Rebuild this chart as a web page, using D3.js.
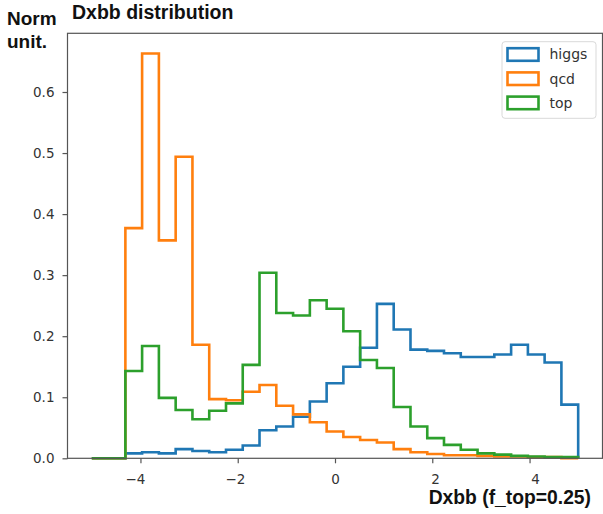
<!DOCTYPE html>
<html>
<head>
<meta charset="utf-8">
<script src="https://cdn.jsdelivr.net/npm/d3@7"></script>
<style>
  html, body { margin: 0; padding: 0; background: #fff; }
  svg { display: block; }
</style>
</head>
<body>
<svg id="chart" width="603" height="514"></svg>
<script>
// ---- data ----
const binEdges = [-5, -4.655, -4.310, -3.966, -3.621, -3.276, -2.931, -2.586, -2.241, -1.897,
  -1.552, -1.207, -0.862, -0.517, -0.172, 0.172, 0.517, 0.862, 1.207, 1.552,
  1.897, 2.241, 2.586, 2.931, 3.276, 3.621, 3.966, 4.310, 4.655, 5];

const seriesNames = ["higgs", "qcd", "top"];

const higgs = [0, 0, 0.008, 0.010, 0.008, 0.015, 0.012, 0.010, 0.014, 0.021,
  0.046, 0.052, 0.068, 0.093, 0.123, 0.150, 0.181, 0.253, 0.211, 0.178,
  0.176, 0.172, 0.166, 0.166, 0.170, 0.186, 0.170, 0.157, 0.088];

const qcd = [0, 0, 0.377, 0.663, 0.357, 0.494, 0.186, 0.097, 0.095, 0.109,
  0.120, 0.086, 0.072, 0.059, 0.044, 0.035, 0.030, 0.026, 0.015, 0.010,
  0.007, 0.005, 0.005, 0.004, 0.003, 0.003, 0.002, 0.002, 0];

const top_ = [0, 0, 0.143, 0.184, 0.099, 0.079, 0.064, 0.078, 0.090, 0.153,
  0.304, 0.238, 0.234, 0.259, 0.245, 0.208, 0.161, 0.148, 0.084, 0.052,
  0.033, 0.022, 0.014, 0.008, 0.006, 0.004, 0.003, 0.002, 0.002];

const xTicks = [-4, -2, 0, 2, 4];
const yTicks = [0.0, 0.1, 0.2, 0.3, 0.4, 0.5, 0.6];

const titleText = "Dxbb distribution";
const yLabelLines = ["Norm", "unit."];
const xLabelText = "Dxbb (f_top=0.25)";

// ---- layout ----
const colors = {higgs: "#1f77b4", qcd: "#ff7f0e", top: "#2ca02c"};
const seriesValues = {higgs: higgs, qcd: qcd, top: top_};

const L = 67.5, R = 602.5, T = 33.3, B = 458.3;
const svg = d3.select("#chart");

const x = d3.scaleLinear().domain([-5.5, 5.5]).range([L, R]);
const yMax = d3.max([...higgs, ...qcd, ...top_]) * 1.05;
const y = d3.scaleLinear().domain([0, yMax]).range([B, T]);

const tickFont = "'DejaVu Sans', sans-serif";
const boldFont = "'Liberation Sans', Arial, sans-serif";

// histogram step outlines
const line = d3.line().x(d => x(d[0])).y(d => y(d[1])).curve(d3.curveLinear);
function stepPoints(vals) {
  const pts = [[binEdges[0], 0]];
  vals.forEach((v, i) => {
    pts.push([binEdges[i], v]);
    pts.push([binEdges[i + 1], v]);
  });
  pts.push([binEdges[binEdges.length - 1], 0]);
  return pts;
}

const plot = svg.append("g");
seriesNames.forEach(name => {
  plot.append("path")
    .attr("d", line(stepPoints(seriesValues[name])))
    .attr("fill", "none")
    .attr("stroke", colors[name])
    .attr("stroke-width", 2.6)
    .attr("stroke-linejoin", "miter");
});

// axes
const spineColor = "#555";
const xAxis = svg.append("g")
  .attr("transform", `translate(0,${B})`)
  .call(d3.axisBottom(x).tickValues(xTicks).tickSize(5).tickPadding(11).tickFormat(d3.format("d")));
xAxis.select(".domain").remove();
xAxis.selectAll(".tick line").attr("stroke", spineColor).attr("stroke-width", 1.2);
xAxis.selectAll(".tick text")
  .attr("font-family", tickFont).attr("font-size", 13.5).attr("fill", "#333")
  .attr("dx", d => d * 1.4);

const yAxis = svg.append("g")
  .attr("transform", `translate(${L},0)`)
  .call(d3.axisLeft(y).tickValues(yTicks).tickSize(5).tickPadding(8).tickFormat(d3.format(".1f")));
yAxis.select(".domain").remove();
yAxis.selectAll(".tick line").attr("stroke", spineColor).attr("stroke-width", 1.2);
yAxis.selectAll(".tick text")
  .attr("font-family", tickFont).attr("font-size", 13.5).attr("fill", "#333");

// frame
svg.append("rect")
  .attr("x", L).attr("y", T).attr("width", R - L).attr("height", B - T)
  .attr("fill", "none").attr("stroke", spineColor).attr("stroke-width", 1.2);

// legend
const lg = svg.append("g");
lg.append("rect")
  .attr("x", 502).attr("y", 41.7).attr("width", 94).attr("height", 76.6)
  .attr("rx", 3).attr("fill", "#fff").attr("fill-opacity", 0.8)
  .attr("stroke", "#d9d9d9").attr("stroke-width", 1);
seriesNames.forEach((name, i) => {
  const cy = 54.5 + i * 24.2;
  lg.append("rect")
    .attr("x", 507.5).attr("y", cy - 6.3).attr("width", 31).attr("height", 12.6)
    .attr("fill", "none").attr("stroke", colors[name]).attr("stroke-width", 2.6);
  lg.append("text")
    .attr("x", 549.5).attr("y", cy).attr("dy", "0.35em")
    .attr("font-family", tickFont).attr("font-size", 14).attr("fill", "#333")
    .text(name);
});

// titles
svg.append("text")
  .attr("x", 72).attr("y", 18.5)
  .attr("font-family", boldFont).attr("font-weight", "bold").attr("font-size", 19.5)
  .attr("fill", "#111").text(titleText);

yLabelLines.forEach((t, i) => {
  svg.append("text")
    .attr("x", 7).attr("y", 24.5 + i * 23)
    .attr("font-family", boldFont).attr("font-weight", "bold").attr("font-size", 19)
    .attr("fill", "#111").text(t);
});

svg.append("text")
  .attr("x", 591).attr("y", 504).attr("text-anchor", "end")
  .attr("font-family", boldFont).attr("font-weight", "bold").attr("font-size", 19.3)
  .attr("fill", "#111").text(xLabelText);
</script>
</body>
</html>
